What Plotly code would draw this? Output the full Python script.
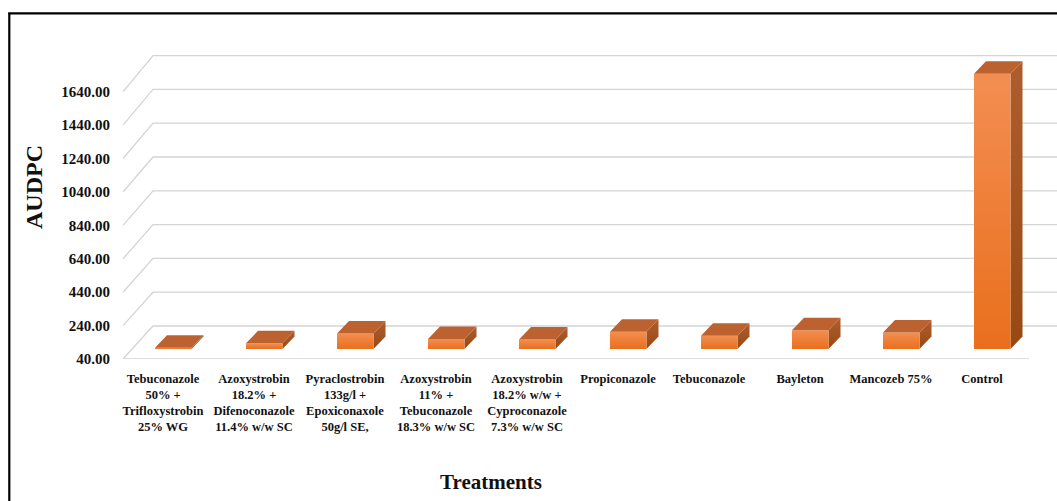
import plotly.graph_objects as go

# ---------------- data ----------------
treatments = [
    "Tebuconazole<br>50% +<br>Trifloxystrobin<br>25% WG",
    "Azoxystrobin<br>18.2% +<br>Difenoconazole<br>11.4% w/w SC",
    "Pyraclostrobin<br>133g/l +<br>Epoxiconaxole<br>50g/l SE,",
    "Azoxystrobin<br>11% +<br>Tebuconazole<br>18.3% w/w SC",
    "Azoxystrobin<br>18.2% w/w +<br>Cyproconazole<br>7.3% w/w SC",
    "Propiconazole",
    "Tebuconazole",
    "Bayleton",
    "Mancozeb 75%",
    "Control",
]
audpc = [48, 74, 133, 100, 97, 143, 120, 153, 139, 1688]
y_ticks = [40, 240, 440, 640, 840, 1040, 1240, 1440, 1640]
y_ticktext = [f"{v:.2f}" for v in y_ticks]

# ---------------- geometry (pixels -> axis units) ----------------
W, H = 1057, 501
ML, MR, MT, MB = 123, 0, 40, 142
PW, PH = W - ML - MR, H - MT - MB
KX = 91.0      # px per category
KY = 0.167     # px per AUDPC unit
Y0 = 40.0
x_range = [-40 / KX, -40 / KX + PW / KX]
y_range = [Y0, Y0 + PH / KY]

def ux(p):
    return p / KX

def uy(p):
    return p / KY

WALL_DX, WALL_DY = ux(30), uy(33)
FRONT_L, FRONT_R = ux(-8), ux(28.5)
BAR_LIFT = uy(10)
BAR_DX, BAR_DY = ux(12), uy(12.5)
FLOOR_RIGHT = ux(1029 - 163)

GRID = "#D4D4D4"
FRONT_BOT, FRONT_TOP = "#E96F1D", "#F38E52"
TOP_COL = "#BB6230"
SIDE_BOT, SIDE_TOP = "#974913", "#AE5E2E"
TXT = "#111111"
FONT = "Liberation Serif"

fig = go.Figure()

# ---------------- walls / grid ----------------
gx, gy = [], []
for v in y_ticks:
    vb = v + WALL_DY + (v - Y0) * 0.012
    gx += [x_range[0], x_range[0] + WALL_DX, x_range[1], None]
    gy += [v, vb, vb, None]
gx += [x_range[0], FLOOR_RIGHT, None]
gy += [Y0, Y0, None]
fig.add_trace(go.Scatter(x=gx, y=gy, mode="lines",
                         line=dict(color=GRID, width=1.3),
                         hoverinfo="skip", showlegend=False))

# ---------------- 3D-looking bars ----------------
for i, v in enumerate(audpc):
    xl, xr = i + FRONT_L, i + FRONT_R
    yb, yt = Y0 + BAR_LIFT, v + BAR_LIFT
    # side face
    fig.add_trace(go.Scatter(
        x=[xr, xr + BAR_DX, xr + BAR_DX, xr, xr],
        y=[yb, yb + BAR_DY, yt + BAR_DY, yt, yb],
        mode="lines", fill="toself", line=dict(width=0),
        fillgradient=dict(type="vertical",
                          colorscale=[[0, SIDE_BOT], [1, SIDE_TOP]]),
        hoverinfo="skip", showlegend=False))
    # front face
    fig.add_trace(go.Scatter(
        x=[xl, xr, xr, xl, xl],
        y=[yb, yb, yt, yt, yb],
        mode="lines", fill="toself", line=dict(width=0),
        fillgradient=dict(type="vertical",
                          colorscale=[[0, FRONT_BOT], [1, FRONT_TOP]]),
        hoverinfo="skip", showlegend=False))
    # top face
    fig.add_trace(go.Scatter(
        x=[xl, xr, xr + BAR_DX, xl + BAR_DX, xl],
        y=[yt, yt, yt + BAR_DY, yt + BAR_DY, yt],
        mode="lines", fill="toself", line=dict(width=0),
        fillcolor=TOP_COL,
        hoverinfo="skip", showlegend=False))

# ---------------- layout ----------------
fig.update_layout(
    width=W, height=H,
    margin=dict(l=ML, r=MR, t=MT, b=MB, autoexpand=False),
    paper_bgcolor="white", plot_bgcolor="white",
    showlegend=False,
    xaxis=dict(range=x_range, tickmode="array", tickvals=list(range(len(treatments))),
               ticktext=treatments, showgrid=False, zeroline=False, showline=False,
               ticks="", ticklabelstandoff=10,
               tickfont=dict(family=FONT, size=12.5, color=TXT, weight="bold"),
               fixedrange=True),
    yaxis=dict(range=y_range, tickmode="array", tickvals=y_ticks, ticktext=y_ticktext,
               showgrid=False, zeroline=False, showline=False,
               ticks="", ticklabelstandoff=12,
               tickfont=dict(family=FONT, size=15, color=TXT, weight="bold"),
               fixedrange=True),
    annotations=[
        dict(text="Treatments", xref="paper", yref="paper",
             x=(491 - ML) / PW, y=(H - MB - 482) / PH,
             xanchor="center", yanchor="middle", showarrow=False,
             font=dict(family=FONT, size=21, color=TXT, weight="bold")),
        dict(text="AUDPC", xref="paper", yref="paper",
             x=(34 - ML) / PW, y=(H - MB - 187) / PH, textangle=-90,
             xanchor="center", yanchor="middle", showarrow=False,
             font=dict(family=FONT, size=24, color=TXT, weight="bold")),
    ],
    shapes=[
        dict(type="line", xref="paper", yref="paper",
             x0=(9.3 - ML) / PW, x1=(9.3 - ML) / PW,
             y0=(H - MB - 13.3) / PH, y1=(H - MB - 520) / PH,
             line=dict(color="black", width=2.2)),
        dict(type="line", xref="paper", yref="paper",
             x0=(8.2 - ML) / PW, x1=(1080 - ML) / PW,
             y0=(H - MB - 13.3) / PH, y1=(H - MB - 13.3) / PH,
             line=dict(color="black", width=2.2)),
    ],
)

fig.write_html("out.html",
               config={"displayModeBar": False, "staticPlot": True},
               post_script="document.body.style.margin='0px';document.body.style.overflow='hidden';")
